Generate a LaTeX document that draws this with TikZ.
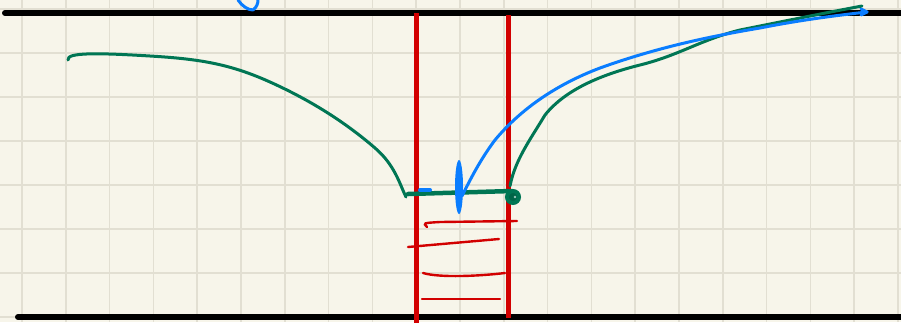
\documentclass[tikz,border=0pt]{standalone}
\usepackage{xcolor}
\definecolor{paper}{RGB}{247,245,234}
\definecolor{gridline}{RGB}{226,223,210}
\definecolor{inkgreen}{RGB}{0,118,84}
\definecolor{inkblue}{RGB}{10,125,255}
\definecolor{inkred}{RGB}{210,0,0}
\usepackage{tikz}
\usetikzlibrary{calc}
\tikzset{
  gridstroke/.style={draw=gridline, line width=1.6pt},
  wall/.style={draw=black, line width=6pt, line cap=round},
  pipe/.style={draw=inkred, line width=5pt},
  rung/.style={draw=inkred, line width=2.4pt, line cap=round},
  greenink/.style={draw=inkgreen, line width=3pt, line cap=round, line join=round},
  blueink/.style={draw=inkblue, line width=3pt, line cap=round, line join=round},
}

\begin{document}
\begin{tikzpicture}[x=1pt, y=-1pt]
  \useasboundingbox (0,0) rectangle (901,322);
  \fill[paper] (0,0) rectangle (901,322);

  % grid
  \foreach \i in {0,...,20}
    \draw[gridstroke] ({22+43.8*\i},0) -- ({22+43.8*\i},322);
  \foreach \j in {0,...,7}
    \draw[gridstroke] (0,{9+44*\j}) -- (901,{9+44*\j});

  % walls
  \draw[wall] (5,13) -- (905,13);
  \draw[wall] (18,317) -- (905,317);

  % red channel
  \draw[pipe] (416,13) -- (416,325);
  \draw[pipe] (508,15) -- (508,318);
  \draw[rung] (427,227) .. controls (423,223) .. (440,222) -- (517,221);
  \draw[rung] (408,247) -- (499,239);
  \draw[rung] (423,273) .. controls (440,278) and (480,276) .. (505,273);
  \draw[rung] (422,299) -- (500,299);

  % green profile
  \draw[greenink] (68,60) .. controls (66,52) and (100,53) .. (150,56)
    .. controls (200,59) and (230,64) .. (270,82)
    .. controls (310,100) and (345,122) .. (375,148)
    .. controls (395,165) and (400,185) .. (406,197);
  \draw[greenink, line width=4.5pt] (408,194) -- (512,191);
  \draw[draw=inkgreen, line width=4pt, fill=inkgreen!85!black] (513,197) circle (6);
  \fill[inkgreen!40] (515,197) circle (1.3);
  \draw[greenink] (510,186) .. controls (515,160) and (530,140) .. (545,115)
    .. controls (565,90) and (600,75) .. (640,65)
    .. controls (680,55) and (700,40) .. (740,30)
    .. controls (790,20) and (830,12) .. (862,6);

  % blue marks
  \draw[blueink] (238,0) .. controls (242,6) and (248,10) .. (253,10)
    .. controls (257,7) and (258,3) .. (258,0);
  \draw[blueink, line width=4pt] (420,190) -- (430,190);
  \fill[inkblue] (459,187) ellipse (4 and 27);
  \draw[blueink] (462,196) .. controls (470,180) and (480,160) .. (495,140)
    .. controls (520,110) and (555,85) .. (600,68)
    .. controls (650,50) and (700,38) .. (760,28)
    .. controls (800,20) and (840,15) .. (867,12);
  \draw[blueink] (861,9) -- (867,12) -- (861,15);
\end{tikzpicture}
\end{document}
